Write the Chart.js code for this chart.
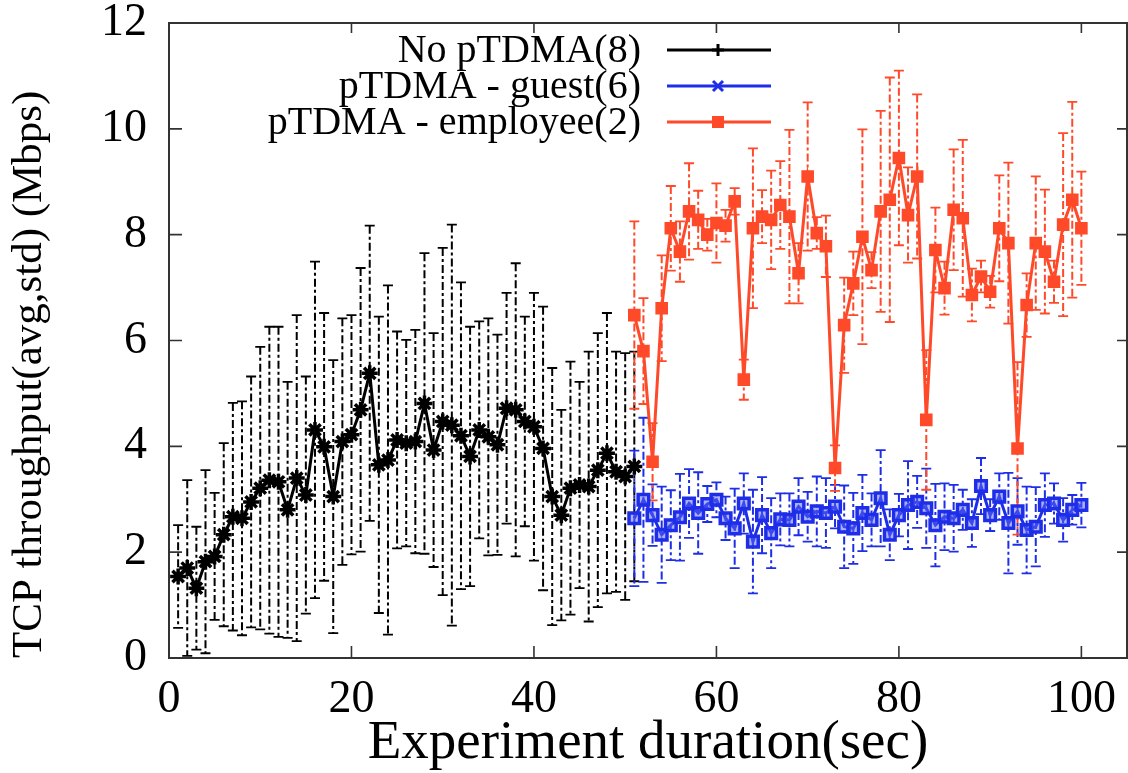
<!DOCTYPE html>
<html>
<head>
<meta charset="utf-8">
<script src="https://cdn.jsdelivr.net/npm/chart.js@4.4.1/dist/chart.umd.min.js"></script>
<style>
  html, body { margin: 0; padding: 0; background: #fff; overflow: hidden; }
  #wrap { width: 1128px; height: 773px; position: relative; }
  #tput { display: block; }
</style>
</head>
<body>
<div id="wrap"><canvas id="tput"></canvas></div>
<script>
// seconds of the experiment for each series
const noTime = [1,2,3,4,5,6,7,8,9,10,11,12,13,14,15,16,17,18,19,20,21,22,23,24,25,26,27,28,29,30,
  31,32,33,34,35,36,37,38,39,40,41,42,43,44,45,46,47,48,49,50,51];
const pTime = [51,52,53,54,55,56,57,58,59,60,61,62,63,64,65,66,67,68,69,70,71,72,73,74,75,
  76,77,78,79,80,81,82,83,84,85,86,87,88,89,90,91,92,93,94,95,96,97,98,99,100];

// No pTDMA (8 clients) - average and std in Mbps
const noMean = [1.54,1.70,1.32,1.82,1.92,2.33,2.67,2.64,2.95,3.21,
  3.36,3.33,2.80,3.40,3.08,4.31,3.99,3.05,4.09,4.22,
  4.69,5.38,3.65,3.74,4.12,4.06,4.09,4.81,3.93,4.47,
  4.40,4.20,3.81,4.31,4.18,4.03,4.72,4.69,4.47,4.37,
  3.96,3.05,2.70,3.21,3.27,3.24,3.55,3.87,3.52,3.43,3.62];
const noStd = [0.97,1.66,1.16,1.73,1.20,1.73,2.15,2.21,2.37,2.67,
  2.90,2.93,2.42,3.08,2.24,3.18,2.53,2.58,2.33,2.26,
  2.68,2.79,2.80,3.30,2.05,1.95,2.11,2.84,2.21,3.28,
  3.79,2.90,2.45,2.05,2.24,2.08,2.18,2.77,1.98,2.53,
  2.68,2.43,1.99,2.39,1.95,2.55,2.59,2.65,2.27,2.33,2.17];

// pTDMA guest (6 clients)
const guestMean = [2.64,2.99,2.70,2.33,2.51,2.66,2.92,2.74,2.91,2.99,
  2.64,2.45,2.92,2.20,2.70,2.36,2.62,2.61,2.86,2.67,
  2.77,2.74,2.86,2.48,2.45,2.74,2.61,3.02,2.33,2.70,
  2.89,2.95,2.83,2.51,2.67,2.64,2.80,2.55,3.25,2.70,
  3.05,2.55,2.77,2.42,2.48,2.89,2.92,2.61,2.80,2.89];
const guestStd = [1.28,1.55,0.58,0.91,0.66,0.82,0.65,0.77,0.34,0.33,
  0.41,0.75,0.57,0.98,0.72,0.66,0.49,0.50,0.54,0.47,
  0.66,0.66,0.41,0.78,0.67,0.72,0.50,0.91,0.48,0.40,
  0.83,0.49,0.75,0.78,0.63,0.63,0.38,0.45,0.53,0.30,
  0.44,0.95,0.63,0.82,0.75,0.60,0.38,0.41,0.28,0.42];

// pTDMA employee (2 clients)
const empMean = [6.48,5.80,3.71,6.61,8.12,7.68,8.44,8.28,8.00,8.22,
  8.17,8.63,5.26,8.12,8.34,8.28,8.56,8.34,7.27,9.10,
  8.03,7.78,3.59,6.29,7.08,7.96,7.33,8.44,8.66,9.45,
  8.37,9.10,4.50,7.71,6.99,8.47,8.31,6.86,7.21,6.92,
  8.12,7.84,3.96,6.67,7.84,7.68,7.11,8.19,8.66,8.12];
const empStd = [1.77,1.00,0.73,1.00,0.80,0.57,0.91,0.55,0.30,0.75,
  0.30,0.25,0.38,1.51,0.50,0.93,0.83,1.64,0.57,1.40,
  0.30,0.58,0.43,0.90,0.60,2.03,0.34,1.90,2.31,1.65,
  0.90,1.55,1.32,0.80,0.50,1.14,1.48,0.50,0.30,0.30,
  1.00,1.52,1.63,0.60,1.26,1.17,0.40,1.73,1.85,1.07];

const seriesLabels = ["No pTDMA(8)", "pTDMA - guest(6)", "pTDMA - employee(2)"];
const xTicks = [0, 20, 40, 60, 80, 100];
const yTicks = [0, 2, 4, 6, 8, 10, 12];

const RED = "#ff4a2a";
const BLUE = "#1e2ee8";
const SERIF = "'Liberation Serif', 'Times New Roman', serif";

// pair up x and y so chart.js can place them on the linear x scale
function toPoints(xs, ys) {
  return xs.map(function (x, i) { return { x: x, y: ys[i] }; });
}

// error bars: dashed vertical line with small caps, drawn before the lines
const errorBars = {
  id: "errorBars",
  beforeDatasetsDraw(chart) {
    const ctx = chart.ctx;
    const xs = chart.scales.x, ys = chart.scales.y;
    const area = chart.chartArea;
    ctx.save();
    ctx.beginPath();
    ctx.rect(area.left, area.top, area.right - area.left, area.bottom - area.top);
    ctx.clip();
    chart.data.datasets.forEach(function (ds) {
      ctx.strokeStyle = ds.borderColor;
      ds.data.forEach(function (p, i) {
        const s = ds.errStd[i];
        const px = xs.getPixelForValue(p.x);
        const top = ys.getPixelForValue(p.y + s);
        const bot = ys.getPixelForValue(Math.max(0, p.y - s));
        ctx.lineWidth = 2;
        ctx.setLineDash([8, 3, 3, 3]);
        ctx.beginPath();
        ctx.moveTo(px, top);
        ctx.lineTo(px, bot);
        ctx.stroke();
        ctx.setLineDash([]);
        ctx.lineWidth = 1.8;
        ctx.beginPath();
        ctx.moveTo(px - 5, top); ctx.lineTo(px + 5, top);
        ctx.moveTo(px - 5, bot); ctx.lineTo(px + 5, bot);
        ctx.stroke();
      });
    });
    ctx.restore();
  }
};

// gnuplot style frame with inward ticks on all four sides + legend inside the plot
const frameAndKey = {
  id: "frameAndKey",
  afterDraw(chart) {
    const ctx = chart.ctx;
    const a = chart.chartArea;
    const xs = chart.scales.x, ys = chart.scales.y;
    ctx.save();
    ctx.strokeStyle = "#333";
    ctx.lineWidth = 2;
    ctx.strokeRect(a.left, a.top, a.right - a.left, a.bottom - a.top);
    ctx.lineWidth = 1.6;
    ctx.beginPath();
    xTicks.forEach(function (v) {
      const px = xs.getPixelForValue(v);
      ctx.moveTo(px, a.bottom); ctx.lineTo(px, a.bottom - 12);
      ctx.moveTo(px, a.top); ctx.lineTo(px, a.top + 10);
    });
    yTicks.forEach(function (v) {
      const py = ys.getPixelForValue(v);
      ctx.moveTo(a.left, py); ctx.lineTo(a.left + 13, py);
      ctx.moveTo(a.right, py); ctx.lineTo(a.right - 10, py);
    });
    ctx.stroke();

    // key
    const rowY = [50, 86, 122];
    const textRight = 641;
    const lineL = 667, lineR = 771, markX = 718;
    ctx.font = "40px " + SERIF;
    ctx.textAlign = "right";
    ctx.textBaseline = "middle";
    chart.data.datasets.forEach(function (ds, i) {
      const y = rowY[i];
      ctx.fillStyle = "#000";
      ctx.fillText(ds.label, textRight, y + 1);
      ctx.strokeStyle = ds.borderColor;
      ctx.lineWidth = 3;
      ctx.beginPath();
      ctx.moveTo(lineL, y); ctx.lineTo(lineR, y);
      ctx.stroke();
      ctx.beginPath();
      if (i === 0) {
        ctx.moveTo(markX - 6, y); ctx.lineTo(markX + 6, y);
        ctx.moveTo(markX, y - 6); ctx.lineTo(markX, y + 6);
        ctx.stroke();
      } else if (i === 1) {
        ctx.moveTo(markX - 5, y - 5); ctx.lineTo(markX + 5, y + 5);
        ctx.moveTo(markX + 5, y - 5); ctx.lineTo(markX - 5, y + 5);
        ctx.stroke();
      } else {
        ctx.fillStyle = ds.borderColor;
        ctx.fillRect(markX - 6, y - 6, 12, 12);
      }
    });
    ctx.restore();
  }
};

new Chart(document.getElementById("tput"), {
  type: "line",
  data: {
    datasets: [
      {
        label: seriesLabels[0],
        data: toPoints(noTime, noMean),
        errStd: noStd,
        borderColor: "#000",
        backgroundColor: "#000",
        borderWidth: 3,
        pointStyle: "star",
        pointRadius: 8,
        pointBorderWidth: 3.5
      },
      {
        label: seriesLabels[1],
        data: toPoints(pTime, guestMean),
        errStd: guestStd,
        borderColor: BLUE,
        backgroundColor: "rgba(90,100,240,0.5)",
        borderWidth: 3,
        pointStyle: "rect",
        pointRadius: 7.5,
        pointBorderWidth: 3.5
      },
      {
        label: seriesLabels[2],
        data: toPoints(pTime, empMean),
        errStd: empStd,
        borderColor: RED,
        backgroundColor: RED,
        borderWidth: 3,
        pointStyle: "rect",
        pointRadius: 7.5,
        pointBorderWidth: 2
      }
    ]
  },
  options: {
    responsive: true,
    maintainAspectRatio: false,
    animation: false,
    layout: { autoPadding: false, padding: { top: 23, right: 1, left: 0, bottom: 0 } },
    plugins: {
      legend: { display: false },
      tooltip: { enabled: false }
    },
    scales: {
      x: {
        type: "linear",
        min: 0,
        max: 105,
        grid: { display: false, drawTicks: false },
        border: { display: false },
        ticks: {
          stepSize: 20,
          includeBounds: false,
          padding: 14,
          color: "#000",
          font: { family: SERIF, size: 46 }
        },
        title: {
          display: true,
          text: "Experiment duration(sec)",
          color: "#000",
          font: { family: SERIF, size: 55, lineHeight: 1 },
          padding: { top: 0, bottom: 2 }
        },
        afterFit(scale) {
          scale.height = 115;
          scale.paddingLeft = 0;
          scale.paddingRight = 0;
        }
      },
      y: {
        min: 0,
        max: 12,
        grid: { display: false, drawTicks: false },
        border: { display: false },
        ticks: {
          stepSize: 2,
          padding: 22,
          color: "#000",
          font: { family: SERIF, size: 46 }
        },
        title: {
          display: true,
          text: "TCP throughput(avg,std) (Mbps)",
          align: "start",
          color: "#000",
          font: { family: SERIF, size: 43, lineHeight: 1 },
          padding: { top: 8, bottom: 0 }
        },
        afterFit(scale) {
          scale.width = 169;
          scale.paddingTop = 0;
          scale.paddingBottom = 0;
        }
      }
    }
  },
  plugins: [errorBars, frameAndKey]
});
</script>
</body>
</html>
